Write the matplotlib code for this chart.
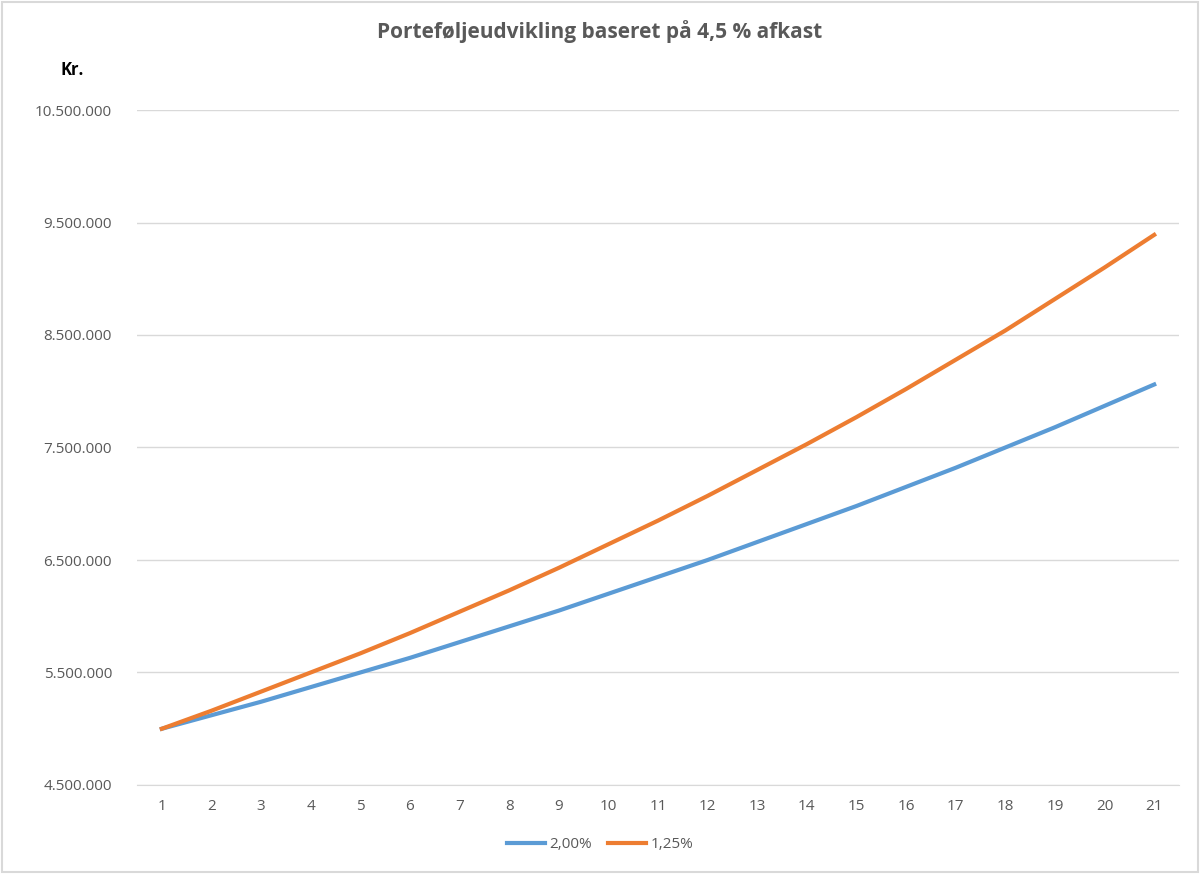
import matplotlib
matplotlib.use("Agg")
import matplotlib.pyplot as plt
from matplotlib.ticker import FuncFormatter
from matplotlib.patches import Rectangle

years = list(range(1, 22))
blue_2 = [5.00,5.12,5.24,5.37,5.50,5.63,5.77,5.91,6.05,6.20,6.35,6.50,6.66,6.82,6.98,7.15,7.32,7.50,7.68,7.87,8.06]
orange_125 = [5.00,5.16,5.33,5.50,5.67,5.85,6.04,6.23,6.43,6.64,6.85,7.07,7.30,7.53,7.77,8.02,8.28,8.54,8.82,9.10,9.39]
labels = ["2,00%", "1,25%"]
yticks = [4.5e6,5.5e6,6.5e6,7.5e6,8.5e6,9.5e6,10.5e6]

plt.rcParams['font.family'] = ['Open Sans', 'DejaVu Sans']
fig = plt.figure(figsize=(12, 8.74), dpi=100)
fig.patches.append(Rectangle((0.002,0.002),0.996,0.996,transform=fig.transFigure,fill=False,edgecolor='#d9d9d9',lw=1.5))
ax = fig.add_axes([137/1200, 1-785/874, (1179-137)/1200, (785-110)/874])
ax.plot(years, [v*1e6 for v in blue_2], color='#5b9bd5', lw=3, label=labels[0])
ax.plot(years, [v*1e6 for v in orange_125], color='#ed7d31', lw=3, label=labels[1])
ax.set_xlim(0.5, 21.5)
ax.set_ylim(4.5e6, 10.5e6)
ax.set_yticks(yticks)
ax.set_xticks(years)
ax.yaxis.set_major_formatter(FuncFormatter(lambda v,p: f"{int(v):,}".replace(",", ".")))
ax.grid(axis='y', color='#d9d9d9', lw=1)
for s in ['top','right','left']:
    ax.spines[s].set_visible(False)
ax.spines['bottom'].set_color('#d9d9d9')
ax.tick_params(length=0, colors='#595959', labelsize=11)
ax.tick_params(axis='x', pad=10)
ax.tick_params(axis='y', pad=18)
fig.text(0.5, 1-32/874, "Porteføljeudvikling baseret på 4,5 % afkast", ha='center', va='center', fontsize=15, fontweight='bold', color='#595959')
fig.text(72/1200, 1-70/874, "Kr.", ha='center', va='center', fontsize=12, fontweight='bold', color='black')
fig.legend(loc='center', bbox_to_anchor=(0.5, 1-845/874), ncol=2, frameon=False, fontsize=11, labelcolor='#595959', handlelength=2.5, columnspacing=1.0, handletextpad=0.3)
fig.savefig("out.png", dpi=100)
